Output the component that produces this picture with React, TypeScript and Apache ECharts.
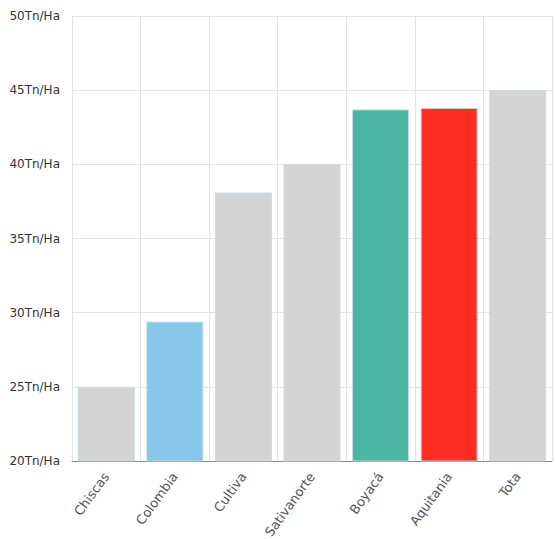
import React, { useEffect, useRef } from "react";
import * as echarts from "echarts";

const categories = ["Chiscas", "Colombia", "Cultiva", "Sativanorte", "Boyacá", "Aquitania", "Tota"];
const values = [25, 29.4, 38.1, 40, 43.7, 43.8, 45];
const barColors = ["#d3d3d3", "#82c5e9", "#d3d3d3", "#d3d3d3", "#45b59f", "#fe271b", "#d3d3d3"];

export default function App() {
  const ref = useRef<HTMLDivElement>(null);
  useEffect(() => {
    if (!ref.current) return;
    const chart = echarts.init(ref.current, null, { renderer: "svg" });
    chart.setOption({
      animation: false,
      grid: { left: 72, right: 3, top: 16, bottom: 78, containLabel: false, outerBoundsMode: "none" },
      xAxis: {
        type: "category",
        data: categories,
        axisLine: { lineStyle: { color: "#8a8a8a", width: 1 } },
        axisTick: { alignWithLabel: true, length: 5, lineStyle: { color: "#8a8a8a" } },
        splitLine: { show: true, lineStyle: { color: "#e3e3e3" } },
        axisLabel: {
          rotate: 54,
          fontFamily: "DejaVu Sans",
          fontSize: 13,
          color: "#555",
          margin: 13,
        },
      },
      yAxis: {
        type: "value",
        min: 20,
        max: 50,
        interval: 5,
        axisLine: { show: false },
        axisTick: { show: false },
        splitLine: { lineStyle: { color: "#e3e3e3" } },
        axisLabel: {
          formatter: "{value}Tn/Ha",
          fontFamily: "DejaVu Sans",
          fontSize: 12,
          color: "#333",
          margin: 12,
        },
      },
      series: [
        {
          type: "bar",
          barCategoryGap: "17%",
          data: values.map((v, i) => ({
            value: v,
            itemStyle: { color: barColors[i], opacity: 0.97, borderColor: "rgba(190,220,232,0.9)", borderWidth: 1 },
          })),
        },
      ],
    });
    return () => chart.dispose();
  }, []);
  return <div ref={ref} style={{ position: "absolute", left: 0, top: 0, width: 555, height: 539 }} />;
}
